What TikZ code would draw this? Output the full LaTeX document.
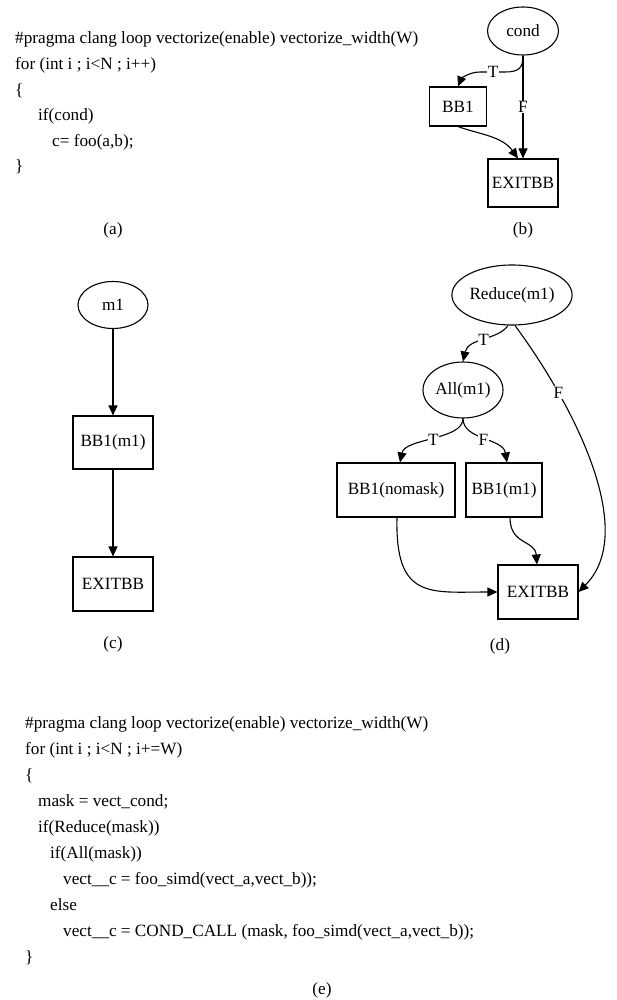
\documentclass[tikz,border=0pt]{standalone}
\usepackage{fontspec}
\setmainfont{Liberation Serif}
\usetikzlibrary{shapes.geometric,arrows.meta}
\tikzset{
  txt/.style={font=\fontsize{17.2pt}{20pt}\selectfont},
  code/.style={txt,anchor=base west,inner sep=0pt},
  captxt/.style={txt,anchor=base,inner sep=0pt},
  ell/.style={txt,draw,ellipse,inner sep=0pt,line width=1.1pt},
  box/.style={txt,draw,rectangle,inner sep=0pt,line width=1.1pt},
  arr/.style={line width=1.1pt,-{Triangle[length=10pt,width=9pt]}},
  lab/.style={txt,fill=white,inner sep=0.6pt},
}
\begin{document}
\begin{tikzpicture}[x=1pt,y=-1pt]
\fill[white] (0,0) rectangle (617,1000);
\useasboundingbox (0,0) rectangle (617,1000);

% (a) code
\node[code] (a1) at (15,44) {\#pragma clang loop vectorize(enable) vectorize\_width(W)};
\node[code] (a2) at (15,69.6) {for (int i ; i<N ; i++)};
\node[code] (a3) at (15,95.2) {\{};
\node[code] (a4) at (38,120.8) {if(cond)};
\node[code] (a5) at (52,146.4) {c= foo(a,b);};
\node[code] (a6) at (15,172) {\}};
\node[captxt] (capa) at (113,234) {(a)};

% (b) graph
\node[ell,minimum width=71pt,minimum height=48pt] (cond) at (523,31) {cond};
\node[box,minimum width=57pt,minimum height=39pt] (bbb) at (458,106.5) {BB1};
\node[box,minimum width=70pt,minimum height=48pt] (exb) at (523,183) {EXITBB};
\draw[arr] (cond.south) -- node[lab,pos=0.5]{F} (exb.north);
\draw[arr] (cond.south) .. controls (523,68) and (519,72) .. (505,72)
  -- (493,72) node[lab]{T} -- (480,72) .. controls (469,72) and (461,79) .. (bbb.north);
\draw[arr] (bbb.south) .. controls (478,134) and (502,136) .. ([xshift=-5pt]exb.north);
\node[captxt] (capb) at (523,235) {(b)};

% (c) graph
\node[ell,minimum width=70pt,minimum height=47pt] (m1) at (113,305) {m1};
\node[box,minimum width=80pt,minimum height=53pt] (bbc) at (113,442.5) {BB1(m1)};
\node[box,minimum width=80pt,minimum height=54pt] (exc) at (113,584) {EXITBB};
\draw[arr] (m1) -- (bbc);
\draw[arr] (bbc) -- (exc);
\node[captxt] (capc) at (113,648) {(c)};

% (d) graph
\node[ell,minimum width=101pt,minimum height=60pt] (red) at (512,295) {Reduce(m1)};
\node[ell,minimum width=80pt,minimum height=56pt] (all) at (463,390) {All(m1)};
\node[box,minimum width=118pt,minimum height=54pt] (bbn) at (396,490) {BB1(nomask)};
\node[box,minimum width=76pt,minimum height=54pt] (bbd) at (504,490) {BB1(m1)};
\node[box,minimum width=80pt,minimum height=54pt] (exd) at (538,592) {EXITBB};
\draw[arr] ([xshift=-4pt]red.south) .. controls (498,340) and (468,338) .. (all.north)
  node[lab,pos=0.5]{T};
\draw[arr] ([xshift=3pt]red.south) .. controls (570,400) and (640,530) .. (exd.east)
  node[lab,pos=0.26]{F};
\draw[arr] (all.south) .. controls (463,440) and (405,438) .. ([xshift=4pt]bbn.north)
  node[lab,pos=0.5]{T};
\draw[arr] (all.south) .. controls (463,440) and (503,438) .. ([xshift=3pt]bbd.north)
  node[lab,pos=0.5]{F};
\draw[arr] ([xshift=1pt]bbn.south) .. controls (395,600) and (430,592) .. (exd.west);
\draw[arr] ([xshift=6pt]bbd.south) .. controls (510,545) and (535,540) .. ([xshift=-1pt]exd.north);
\node[captxt] (capd) at (500,650) {(d)};

% (e) code
\node[code] (e1) at (25,728) {\#pragma clang loop vectorize(enable) vectorize\_width(W)};
\node[code] (e2) at (25,754) {for (int i ; i<N ; i+=W)};
\node[code] (e3) at (25,780) {\{};
\node[code] (e4) at (38,806) {mask = vect\_cond;};
\node[code] (e5) at (38,832) {if(Reduce(mask))};
\node[code] (e6) at (50,858) {if(All(mask))};
\node[code] (e7) at (63,884) {vect\_\_c = foo\_simd(vect\_a,vect\_b));};
\node[code] (e8) at (50,910) {else};
\node[code] (e9) at (63,936) {vect\_\_c = COND\_CALL (mask, foo\_simd(vect\_a,vect\_b));};
\node[code] (e10) at (25,962) {\}};
\node[captxt] (cape) at (322,994) {(e)};
\end{tikzpicture}
\end{document}
